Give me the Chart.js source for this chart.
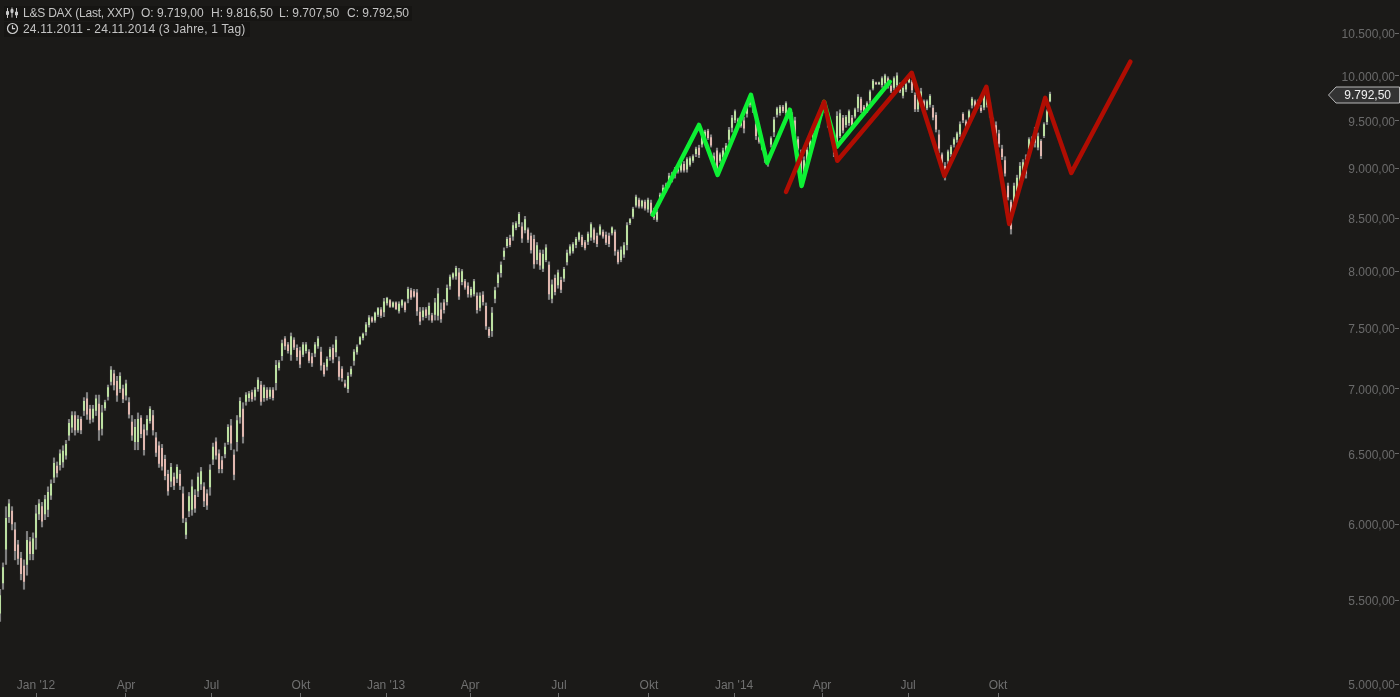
<!DOCTYPE html>
<html><head><meta charset="utf-8">
<script src="https://cdn.jsdelivr.net/npm/chart.js@4/dist/chart.umd.min.js"></script>
<style>
html,body{margin:0;padding:0;background:#1b1a18;overflow:hidden}
#wrap{position:relative;width:1400px;height:697px}
canvas{display:block}
.hd{position:absolute;font:12px "Liberation Sans",Arial,sans-serif;color:#c4c4c4;background:#161513;white-space:pre;height:15px;line-height:15px}
svg.ic{position:absolute}
</style></head><body>
<div id="wrap">
<canvas id="c" width="1400" height="697"></canvas>
<div class="hd" style="left:4px;top:6px;width:408px"></div>
<div class="hd" style="left:23px;top:6px;background:none;letter-spacing:-0.22px">L&amp;S DAX (Last, XXP)</div>
<div class="hd" style="left:141px;top:6px;background:none">O: 9.719,00</div>
<div class="hd" style="left:211px;top:6px;background:none">H: 9.816,50</div>
<div class="hd" style="left:279px;top:6px;background:none">L: 9.707,50</div>
<div class="hd" style="left:347px;top:6px;background:none">C: 9.792,50</div>
<div class="hd" style="left:4px;top:22px;width:246px"></div>
<div class="hd" style="left:23px;top:22px;background:none;letter-spacing:0.18px">24.11.2011 - 24.11.2014 (3 Jahre, 1 Tag)</div>
<svg class="ic" style="left:6px;top:7px" width="12" height="12" viewBox="0 0 12 12" fill="none" stroke="#c8c8c8" stroke-width="1"><path d="M1.5 1v10M6 0.5v10M10.5 1v10"/><path d="M0.5 4.5h2v3h-2zM5 2.5h2v3h-2zM9.5 5h2v3h-2z" fill="#c8c8c8"/></svg>
<svg class="ic" style="left:6px;top:22px" width="13" height="13" viewBox="0 0 13 13" fill="none" stroke="#d0d0d0" stroke-width="1.2"><circle cx="6.5" cy="6.5" r="5"/><path d="M6.5 3.2v3.5h2.6"/></svg>
</div>
<script>
// Prices; one sample per bar column
const highs=[
5570,5740,6120,6170,6120,6010,5890,5810,5760,5950,5910,5940,6130,6170,6150,6200,6260,6310,6470,6440,
6530,6560,6600,6760,6820,6820,6790,6780,6930,6970,6870,6870,6950,6950,6870,6910,7030,7180,7150,7100,
7130,7030,7070,6930,6790,6760,6810,6790,6720,6790,6860,6830,6660,6590,6570,6490,6380,6430,6360,6420,
6380,6260,6040,6220,6310,6240,6360,6400,6290,6240,6420,6580,6620,6530,6480,6580,6720,6760,6530,6790,
6930,6890,6970,6980,6990,7010,7090,7060,7030,7010,7010,7010,7230,7230,7400,7430,7380,7460,7420,7360,
7340,7380,7380,7320,7290,7380,7430,7340,7210,7260,7340,7360,7430,7260,7180,7070,7130,7180,7320,7360,
7430,7460,7550,7610,7600,7640,7680,7680,7760,7770,7750,7730,7730,7730,7750,7730,7860,7850,7840,7840,
7680,7680,7680,7720,7630,7760,7850,7720,7750,7880,7970,7990,8050,8030,8020,7930,7900,7860,7930,7810,
7810,7820,7720,7510,7680,7860,7990,8090,8220,8320,8340,8460,8470,8560,8460,8520,8410,8360,8340,8270,
8200,8200,8250,8090,7925,7970,8015,7950,8040,8200,8250,8270,8320,8370,8340,8290,8370,8460,8410,8360,
8440,8390,8370,8360,8420,8390,8200,8230,8270,8460,8500,8610,8730,8700,8680,8680,8700,8680,8600,8580,
8750,8830,8850,8950,8960,9010,9010,9060,9070,9110,9120,9140,9220,9240,9380,9400,9410,9350,9160,9210,
9160,9210,9260,9430,9560,9620,9530,9540,9540,9700,9760,9750,9510,9330,9300,9160,9120,9330,9540,9650,
9670,9670,9710,9640,9590,9540,9330,9190,9120,9220,9300,9370,9490,9540,9670,9700,9600,9460,9300,9600,
9620,9560,9560,9620,9560,9640,9790,9760,9670,9710,9840,9960,9930,9930,9990,10020,9990,9900,9990,10035,
9920,9880,9920,9980,9950,9810,9760,9860,9730,9730,9790,9670,9590,9400,9160,9060,9190,9240,9320,9380,
9490,9590,9510,9620,9760,9730,9730,9670,9810,9840,9700,9530,9490,9400,9240,9120,8850,8680,8850,8930,
9060,9090,9140,9320,9330,9430,9370,9300,9480,9620,9816.5];
const lows=[
5370,5570,5730,6010,5960,5760,5730,5630,5570,5660,5760,5760,5830,6030,5980,6030,6050,6170,6290,6330,
6380,6400,6460,6600,6660,6640,6660,6650,6790,6760,6730,6740,6790,6600,6640,6830,6910,7030,6990,6900,
6970,6890,6910,6770,6600,6530,6530,6620,6490,6640,6730,6640,6480,6400,6380,6310,6200,6260,6240,6290,
6240,6010,5900,6050,6060,6080,6190,6240,6120,6100,6200,6420,6460,6360,6360,6470,6570,6530,6310,6520,
6730,6580,6870,6900,6900,6910,6980,6870,6900,6910,6920,6910,6990,7150,7230,7320,7290,7230,7320,7230,
7170,7260,7290,7210,7180,7260,7330,7150,7100,7150,7230,7210,7260,7070,7060,7010,6970,7100,7190,7280,
7360,7400,7440,7510,7550,7550,7600,7590,7600,7700,7680,7680,7660,7630,7680,7640,7720,7750,7770,7610,
7530,7570,7590,7570,7550,7570,7570,7550,7630,7700,7840,7930,7930,7750,7880,7840,7770,7770,7780,7630,
7650,7700,7490,7420,7430,7720,7860,7950,8110,8220,8230,8290,8390,8420,8270,8360,8270,8170,8030,8070,
8020,8000,8090,7750,7720,7790,7850,7810,7910,8060,8150,8170,8220,8280,8230,8200,8250,8290,8270,8230,
8340,8310,8250,8230,8340,8150,8070,8090,8130,8200,8440,8500,8610,8600,8600,8580,8560,8530,8490,8470,
8660,8710,8760,8810,8860,8900,8950,8960,8960,8960,9020,9060,9120,9110,9220,9300,9300,9220,9020,8950,
9060,9090,9120,9270,9380,9480,9430,9430,9370,9540,9650,9590,9300,9260,9190,9060,9020,9220,9330,9540,
9560,9590,9560,9530,9480,9330,9190,8920,8880,9020,9120,9220,9330,9430,9560,9590,9430,9330,9120,9220,
9320,9370,9430,9450,9430,9530,9600,9590,9560,9590,9700,9840,9900,9900,9870,9900,9860,9810,9840,9870,
9810,9750,9820,9920,9810,9600,9600,9700,9590,9620,9650,9510,9380,9160,9040,8880,9040,9120,9220,9270,
9330,9480,9400,9510,9640,9650,9640,9590,9620,9650,9540,9400,9330,9220,9090,8920,8680,8350,8620,8730,
8810,8880,8900,9160,9220,9220,9190,9100,9320,9460,9707.5];
const opens=[
5420,5610,5830,6050,6090,5960,5860,5770,5720,5730,5880,5800,5910,6070,6120,6070,6100,6200,6330,6410,
6420,6440,6490,6640,6700,6790,6680,6760,6830,6920,6840,6770,6830,6880,6690,6850,6940,7060,7120,7060,
7000,7000,6950,6890,6740,6590,6590,6770,6680,6680,6750,6790,6620,6560,6540,6460,6350,6300,6330,6320,
6350,6210,5930,6090,6100,6200,6230,6280,6260,6210,6260,6460,6590,6500,6450,6500,6590,6710,6490,6590,
6780,6840,6900,6930,6970,6940,7000,7030,6930,6990,6940,6990,7050,7170,7270,7410,7360,7280,7400,7330,
7310,7280,7310,7300,7260,7290,7350,7300,7190,7180,7260,7330,7300,7220,7160,7040,7000,7120,7230,7300,
7370,7420,7470,7530,7590,7570,7620,7660,7640,7720,7740,7690,7720,7650,7700,7720,7760,7830,7820,7810,
7640,7600,7660,7620,7610,7620,7610,7660,7720,7730,7870,7950,7960,7990,7910,7910,7870,7790,7800,7780,
7680,7790,7690,7490,7480,7760,7900,7990,8140,8240,8310,8330,8410,8450,8420,8390,8390,8330,8300,8110,
8170,8030,8110,8060,7760,7940,7880,7920,7940,8090,8170,8190,8250,8300,8320,8270,8280,8320,8390,8330,
8350,8370,8340,8330,8360,8370,8180,8110,8160,8250,8460,8520,8630,8680,8620,8660,8590,8650,8580,8490,
8680,8740,8780,8840,8940,8930,8970,8980,9040,8990,9040,9080,9150,9210,9250,9320,9390,9320,9120,9180,
9080,9120,9150,9300,9430,9510,9510,9450,9500,9580,9680,9730,9460,9320,9280,9130,9100,9250,9380,9570,
9590,9650,9590,9620,9570,9500,9300,9160,8910,9050,9150,9260,9360,9470,9600,9680,9580,9440,9270,9270,
9340,9530,9460,9480,9530,9550,9640,9740,9650,9610,9730,9860,9920,9910,9900,9920,9970,9880,9870,9900,
9890,9780,9850,9930,9930,9780,9630,9740,9710,9640,9680,9640,9560,9350,9140,9020,9080,9150,9250,9300,
9360,9570,9490,9540,9670,9710,9660,9640,9650,9680,9670,9510,9450,9360,9200,9080,8820,8660,8660,8770,
8860,8920,9100,9200,9250,9380,9220,9280,9340,9490,9719];
const closes=[
5530,5710,6040,6140,6000,5820,5770,5670,5620,5890,5800,5900,6070,6140,6020,6170,6220,6280,6430,6360,
6500,6520,6570,6730,6790,6680,6760,6680,6900,6800,6760,6840,6920,6680,6810,6890,7010,7150,7030,6950,
7100,6920,7040,6800,6640,6700,6760,6650,6530,6760,6840,6680,6510,6430,6410,6340,6230,6400,6270,6400,
6270,6040,6010,6190,6260,6110,6330,6370,6160,6130,6380,6550,6490,6390,6390,6550,6700,6580,6350,6750,
6900,6630,6950,6960,6920,6990,7070,6900,7010,6930,6990,6930,7190,7210,7370,7350,7310,7430,7340,7260,
7200,7360,7360,7230,7210,7360,7410,7190,7120,7240,7320,7240,7400,7100,7090,7020,7100,7160,7300,7340,
7420,7450,7530,7590,7560,7630,7670,7610,7730,7760,7690,7720,7670,7710,7740,7660,7840,7770,7780,7650,
7560,7650,7610,7690,7570,7720,7800,7580,7660,7850,7950,7980,8030,7780,8000,7860,7800,7840,7910,7660,
7780,7730,7520,7440,7630,7830,7970,8060,8190,8300,8250,8430,8450,8540,8310,8490,8300,8200,8070,8240,
8060,8160,8220,7800,7880,7820,7990,7840,8020,8170,8230,8250,8300,8360,8250,8220,8350,8440,8300,8260,
8420,8330,8270,8260,8410,8190,8090,8200,8240,8430,8490,8590,8710,8620,8670,8600,8680,8550,8510,8560,
8730,8800,8830,8920,8880,8990,9000,9050,8980,9090,9100,9120,9200,9140,9350,9380,9320,9240,9050,8980,
9140,9180,9230,9400,9530,9600,9450,9520,9420,9670,9740,9620,9340,9280,9210,9080,9050,9310,9510,9630,
9650,9610,9690,9550,9500,9360,9210,8950,9080,9190,9280,9350,9460,9520,9650,9620,9470,9350,9150,9550,
9580,9400,9540,9600,9460,9620,9760,9620,9590,9690,9820,9940,9910,9920,9970,10000,9890,9830,9970,10000,
9830,9860,9900,9970,9840,9630,9730,9820,9610,9710,9770,9540,9410,9210,9060,8910,9170,9220,9300,9360,
9460,9510,9420,9600,9740,9670,9710,9610,9780,9800,9570,9420,9370,9260,9120,8950,8710,8400,8820,8900,
9020,9060,8950,9300,9300,9270,9330,9130,9460,9600,9792.5];

const greenX=[217.6,233,239.2,250.3,255.7,263.3,267.2,274.7,278.9,296.6];
const greenY=[8535,9456,8933,9786,9056,9619,8821,9708,9222,9932];
const redX=[262,274.7,279.1,303.9,314.8,328.8,336.4,348.4,357.1,376.8];
const redY=[8761,9708,9077,10035,8923,9876,8447,9752,8953,10163];

const monthTicks=[12,42,70.5,100.3,128.7,156.7,186.3,216.3,244.7,274,302.7,332.7];
const monthLabels=["Jan '12","Apr","Jul","Okt","Jan '13","Apr","Jul","Okt","Jan '14","Apr","Jul","Okt"];
const priceTicks=[5000,5500,6000,6500,7000,7500,8000,8500,9000,9500,10000,10500];
const lastPrice=9792.5;

const fmt=v=>v.toLocaleString('de-DE',{minimumFractionDigits:2,maximumFractionDigits:2});
const wicks=highs.map((h,i)=>({x:i,y:[lows[i],h]}));
const bodies=opens.map((o,i)=>({x:i,y:[o,closes[i]]}));
const bodyColors=opens.map((o,i)=>closes[i]>=o?'#c9f5a9':'#f6c4ba');
const zip=(xs,ys)=>xs.map((x,i)=>({x,y:ys[i]}));
const noPad=a=>{a.paddingTop=0;a.paddingBottom=0;a.paddingLeft=0;a.paddingRight=0;};

const tag={id:'tag',afterDraw(ch){
  const g=ch.ctx,y=Math.round(ch.scales.y.getPixelForValue(lastPrice))+1;
  g.save();
  g.beginPath();g.moveTo(1328.5,y);g.lineTo(1336,y-8);g.lineTo(1399.5,y-8);g.lineTo(1399.5,y+8);g.lineTo(1336,y+8);g.closePath();
  g.fillStyle='#333333';g.fill();g.strokeStyle='#b8b8b8';g.lineWidth=1;g.stroke();
  g.fillStyle='#f0f0f0';g.font='12px "Liberation Sans",Arial,sans-serif';g.textAlign='right';g.textBaseline='middle';
  g.fillText(fmt(lastPrice),1391,y+1);
  g.restore();
}};

new Chart(document.getElementById('c'),{
  type:'bar',
  data:{datasets:[
    {type:'line',data:zip(redX,redY),borderColor:'#b00d02',borderWidth:4.5,pointRadius:0,tension:0,borderCapStyle:'round',borderJoinStyle:'round',order:0,clip:false},
    {type:'line',data:zip(greenX,greenY),borderColor:'#0df034',borderWidth:4.5,pointRadius:0,tension:0,borderCapStyle:'round',borderJoinStyle:'round',order:1,clip:false},
    {data:bodies,backgroundColor:bodyColors,barThickness:1,grouped:false,order:2},
    {data:wicks,backgroundColor:'#7f7f7f',barThickness:1.5,grouped:false,order:3}
  ]},
  options:{
    responsive:false,animation:false,events:[],
    layout:{padding:0},
    plugins:{legend:{display:false},title:{display:false},tooltip:{enabled:false}},
    scales:{
      x:{type:'linear',position:'bottom',min:0,max:465,offset:false,
        grid:{display:true,drawOnChartArea:false,drawTicks:true,tickLength:4,tickColor:'#6a6a6a',offset:false},
        border:{display:false},
        afterBuildTicks:a=>{a.ticks=monthTicks.map(v=>({value:v}));},
        afterFit:a=>{a.height=4;noPad(a);},
        ticks:{autoSkip:false,mirror:true,maxRotation:0,minRotation:0,padding:0,color:'#707070',
          font:{family:'"Liberation Sans",Arial,sans-serif',size:12},
          callback:(v)=>monthLabels[monthTicks.indexOf(v)]}
      },
      y:{type:'logarithmic',position:'right',min:4949,max:10903,bounds:'data',
        grid:{display:true,drawOnChartArea:false,drawTicks:true,tickLength:4,tickColor:'#6a6a6a'},
        border:{display:false},
        afterBuildTicks:a=>{a.ticks=priceTicks.map(v=>({value:v}));},
        afterFit:a=>{a.width=5;noPad(a);},
        ticks:{mirror:true,crossAlign:'near',padding:0,labelOffset:1.5,autoSkip:false,color:'#6a6a6a',
          font:{family:'"Liberation Sans",Arial,sans-serif',size:12},
          callback:v=>fmt(v)}
      }
    }
  },
  plugins:[tag]
});
</script>
</body></html>
